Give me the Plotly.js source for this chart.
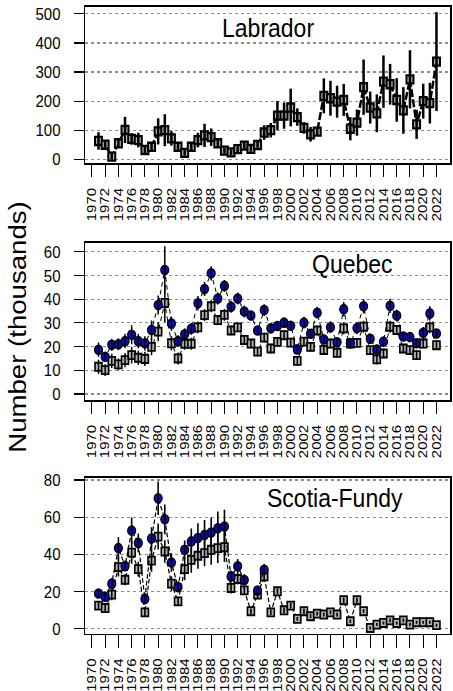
<!DOCTYPE html>
<html>
<head>
<meta charset="utf-8">
<script src="https://cdn.plot.ly/plotly-3.0.1.min.js"></script>
<style>
  html, body { margin: 0; padding: 0; background: #fff; }
  body { width: 453px; height: 691px; overflow: visible; }
  /* the figure is laid out on a 453x601 canvas and stretched vertically to 691 */
  #chart { width: 453px; height: 601px; transform: scaleY(1.1498); transform-origin: 0 0; }
</style>
</head>
<body>
<div id="chart"></div>
<script>
// Survey years
const years = [1971,1972,1973,1974,1975,1976,1977,1978,1979,1980,
               1981,1982,1983,1984,1985,1986,1987,1988,1989,1990,
               1991,1992,1993,1994,1995,1996,1997,1998,1999,2000,
               2001,2002,2003,2004,2005,2006,2007,2008,2009,2010,
               2011,2012,2013,2014,2015,2016,2017,2018,2019,2020,
               2021,2022];

// Year tick labels on every panel
const tickYears = [1970,1972,1974,1976,1978,1980,1982,1984,1986,1988,1990,1992,1994,
                   1996,1998,2000,2002,2004,2006,2008,2010,2012,2014,2016,2018,2020,2022];

// Labrador (thousands) and error half-widths
const labrador = [63,50,9,55,101,70,66,32,43,96,
                  100,72,43,22,43,66,82,76,55,30,
                  24,35,47,36,49,92,100,150,150,178,
                  145,108,86,95,218,210,198,204,105,126,
                  248,178,158,267,258,204,168,275,120,200,
                  193,336];
const labradorErr = [30,15,10,15,45,20,25,15,15,45,
                     55,25,15,10,15,25,40,30,15,10,
                     10,10,15,10,15,25,25,50,45,65,
                     30,20,25,15,60,60,55,55,40,45,
                     95,55,65,90,70,75,80,100,50,60,
                     70,170];

// Quebec: circles (upper series) and squares (lower series)
const quebecCircle = [18.7,15.7,20.8,21.0,22.3,25.0,22.3,21.4,27.0,37.5,
                      52.3,29.7,22.3,25.2,27.5,38.3,44.3,50.9,40.3,45.6,
                      36.8,40.3,34.8,33.1,26.8,35.4,27.7,28.7,30.1,28.8,
                      18.8,30.1,25.4,34.3,23.0,28.2,21.8,35.8,21.4,27.8,
                      37.0,23.3,18.8,22.1,37.2,33.1,24.3,24.0,21.4,25.8,
                      34.0,25.5];
const quebecCircleErr = [3,2,2.5,2.5,3,4,3,3,4,4,
                         10,3,2.5,2.5,2.5,3,3,3,2.5,2.5,
                         2.5,2.5,2.5,2,2,2.5,2,2,2,2,
                         2,2.5,2,2.5,2,2.5,2,3,2,2.5,
                         3,2,2,2,3,2.5,2,2,2,2.5,
                         3,2];
const quebecSquare = [11.5,10.1,14.0,12.5,14.3,16.4,15.3,14.8,19.9,26.3,
                      38.4,21.4,15.0,21.2,21.2,28.1,33.3,37.0,31.2,33.4,
                      26.8,28.1,22.8,21.3,17.9,23.8,19.2,22.0,24.8,21.7,
                      14.0,22.1,19.9,26.8,18.6,21.3,17.4,27.7,21.3,21.6,
                      28.4,18.5,14.6,17.1,28.4,27.0,19.2,18.5,16.4,21.3,
                      28.1,20.6];
const quebecSquareErr = [3,2.5,3,2.5,3,3.5,3,3,3.5,4,
                         8,3,2.5,2.5,2.5,2.5,2.5,2.5,2,2.5,
                         2,2,2,2,2,2,2,2,2,2,
                         2,2,2,2,2,2,2,2.5,2,2,
                         2.5,2,2,2,2.5,2,2,2,2,2,
                         2.5,2];

// Scotia-Fundy: circles (upper series, not shown after 1996) and squares
const scotiaCircle = [19.0,17.2,24.3,43.4,33.8,52.8,46.2,16.1,48.6,70.2,
                      58.9,35.7,22.5,42.5,47.0,48.8,50.5,51.8,54.1,55.0,
                      28.2,33.6,26.3,null,20.6,31.8,null,null,null,null,
                      null,null,null,null,null,null,null,null,null,null,
                      null,null,null,null,null,null,null,null,null,null,
                      null,null];
const scotiaCircleErr = [2,2,3,6,3,7,5,3,6,9,
                         8,5,3,5,7,8,8,8,9,9,
                         3,4,3,0,2,3,0,0,0,0,
                         0,0,0,0,0,0,0,0,0,0,
                         0,0,0,0,0,0,0,0,0,0,
                         0,0];
const scotiaSquare = [12.5,11.2,18.4,33.2,26.4,41.0,32.1,8.9,36.7,49.6,
                      41.6,24.3,14.8,32.1,37.1,39.3,40.7,42.5,43.4,43.9,
                      22.0,26.8,20.7,9.5,18.4,28.2,8.9,20.2,10.0,12.5,
                      5.4,9.5,6.8,8.2,7.7,8.9,7.7,15.4,4.1,15.4,
                      9.5,0.5,2.3,3.2,4.6,3.2,4.6,2.3,3.6,3.6,
                      3.6,2.0];
const scotiaSquareErr = [2,2,3,5,3,6,4,2,6,7,
                         6,4,2,6,7,7,7,8,8,8,
                         3,3,2,1.5,2,3,1.5,1.5,1.5,1.5,
                         1,1.5,1,1,1,1,1,1.5,1,1.5,
                         1,0.8,0.8,0.8,1,0.8,1,0.8,0.8,0.8,
                         0.8,0.8];

const panelNames = ['Labrador', 'Quebec', 'Scotia-Fundy'];

const FONT = 'Liberation Sans, Arial, sans-serif';
const BLUE = '#0a0ab8';
const GREY = '#b2b2b2';

function series(y, xa, ya, opts) {
  return {
    type: 'scatter', mode: 'lines+markers', x: years, y: y,
    xaxis: xa, yaxis: ya, connectgaps: false, hoverinfo: 'skip',
    line: { color: '#000', width: opts.lw, dash: opts.dash },
    marker: { symbol: opts.symbol, size: opts.size, color: opts.fill,
              line: { color: '#000', width: opts.mlw } }
  };
}
function bars(y, err, xa, ya, w) {
  return {
    type: 'scatter', mode: 'markers', x: years, y: y,
    xaxis: xa, yaxis: ya, hoverinfo: 'skip',
    marker: { size: 4, opacity: 0 },
    error_y: { type: 'data', array: err, visible: true, color: '#000', thickness: w, width: 0 }
  };
}

const sq = { symbol: 'square', size: 7, fill: GREY };
const ci = { symbol: 'circle', size: 8, fill: BLUE };

const traces = [
  series(labrador, 'x', 'y', Object.assign({}, sq, { lw: 2.5, dash: '7px,2px', mlw: 2 })),
  bars(labrador, labradorErr, 'x', 'y', 2.5),

  series(quebecSquare, 'x2', 'y2', Object.assign({}, sq, { lw: 1, dash: '4px,3px', mlw: 1.6 })),
  series(quebecCircle, 'x2', 'y2', Object.assign({}, ci, { lw: 1, dash: '4px,3px', mlw: 1.2 })),
  bars(quebecSquare, quebecSquareErr, 'x2', 'y2', 1.5),
  bars(quebecCircle, quebecCircleErr, 'x2', 'y2', 1.5),

  series(scotiaSquare, 'x3', 'y3', Object.assign({}, sq, { lw: 1.2, dash: '4px,2px', mlw: 1.6 })),
  series(scotiaCircle, 'x3', 'y3', Object.assign({}, ci, { lw: 1.2, dash: '4px,2px', mlw: 1.2 })),
  bars(scotiaSquare, scotiaSquareErr, 'x3', 'y3', 1.6),
  bars(scotiaCircle, scotiaCircleErr, 'x3', 'y3', 1.6)
];

function xAxis(anchor) {
  return {
    anchor: anchor, domain: [0, 1], range: [1968.96, 2024.04],
    tickvals: tickYears, ticktext: tickYears.map(String), tickangle: -90,
    ticks: 'outside', ticklen: 11, tickwidth: 1, tickcolor: '#000',
    showline: true, mirror: true, linecolor: '#000', linewidth: 1.5,
    showgrid: false, zeroline: false, ticklabelstandoff: 4,
    tickfont: { family: FONT, size: 13, color: '#000' }
  };
}
function yAxis(anchor, domain, range, ticks) {
  return {
    anchor: anchor, domain: domain, range: range, tickvals: ticks,
    ticks: 'outside', ticklen: 10, tickwidth: 1, tickcolor: '#000',
    showline: true, mirror: true, linecolor: '#000', linewidth: 1.5,
    showgrid: true, gridcolor: '#8c8c8c', griddash: 'dot', gridwidth: 1,
    zeroline: false, ticklabelstandoff: 10,
    tickfont: { family: FONT, size: 15, color: '#000' }
  };
}

function label(text, x, y, size, angle) {
  return { text: text, xref: 'paper', yref: 'paper', x: x, y: y,
           xanchor: 'center', yanchor: 'middle', textangle: angle || 0,
           showarrow: false, font: { family: FONT, size: size, color: '#000' } };
}

const layout = {
  width: 453, height: 601,
  margin: { l: 85, r: 3, t: 6, b: 50 },
  paper_bgcolor: '#fff', plot_bgcolor: '#fff',
  showlegend: false,
  font: { family: FONT, color: '#000' },
  xaxis: xAxis('y'),
  xaxis2: xAxis('y2'),
  xaxis3: xAxis('y3'),
  yaxis: yAxis('x', [0.7508, 1], [-13, 524], [0, 100, 200, 300, 400, 500]),
  yaxis2: yAxis('x2', [0.3727, 0.6233], [-2.5, 63.7], [0, 10, 20, 30, 40, 50, 60]),
  yaxis3: yAxis('x3', [0, 0.2483], [-2.5, 81.1], [0, 20, 40, 60, 80]),
  annotations: [
    label(panelNames[0], 0.5, 0.967, 23),
    label(panelNames[1], 0.733, 0.590, 23),
    label(panelNames[2], 0.685, 0.217, 23),
    label('Number (thousands)', -0.184, 0.49, 24, -90)
  ]
};

Plotly.newPlot('chart', traces, layout, { staticPlot: true, displayModeBar: false });
</script>
</body>
</html>
